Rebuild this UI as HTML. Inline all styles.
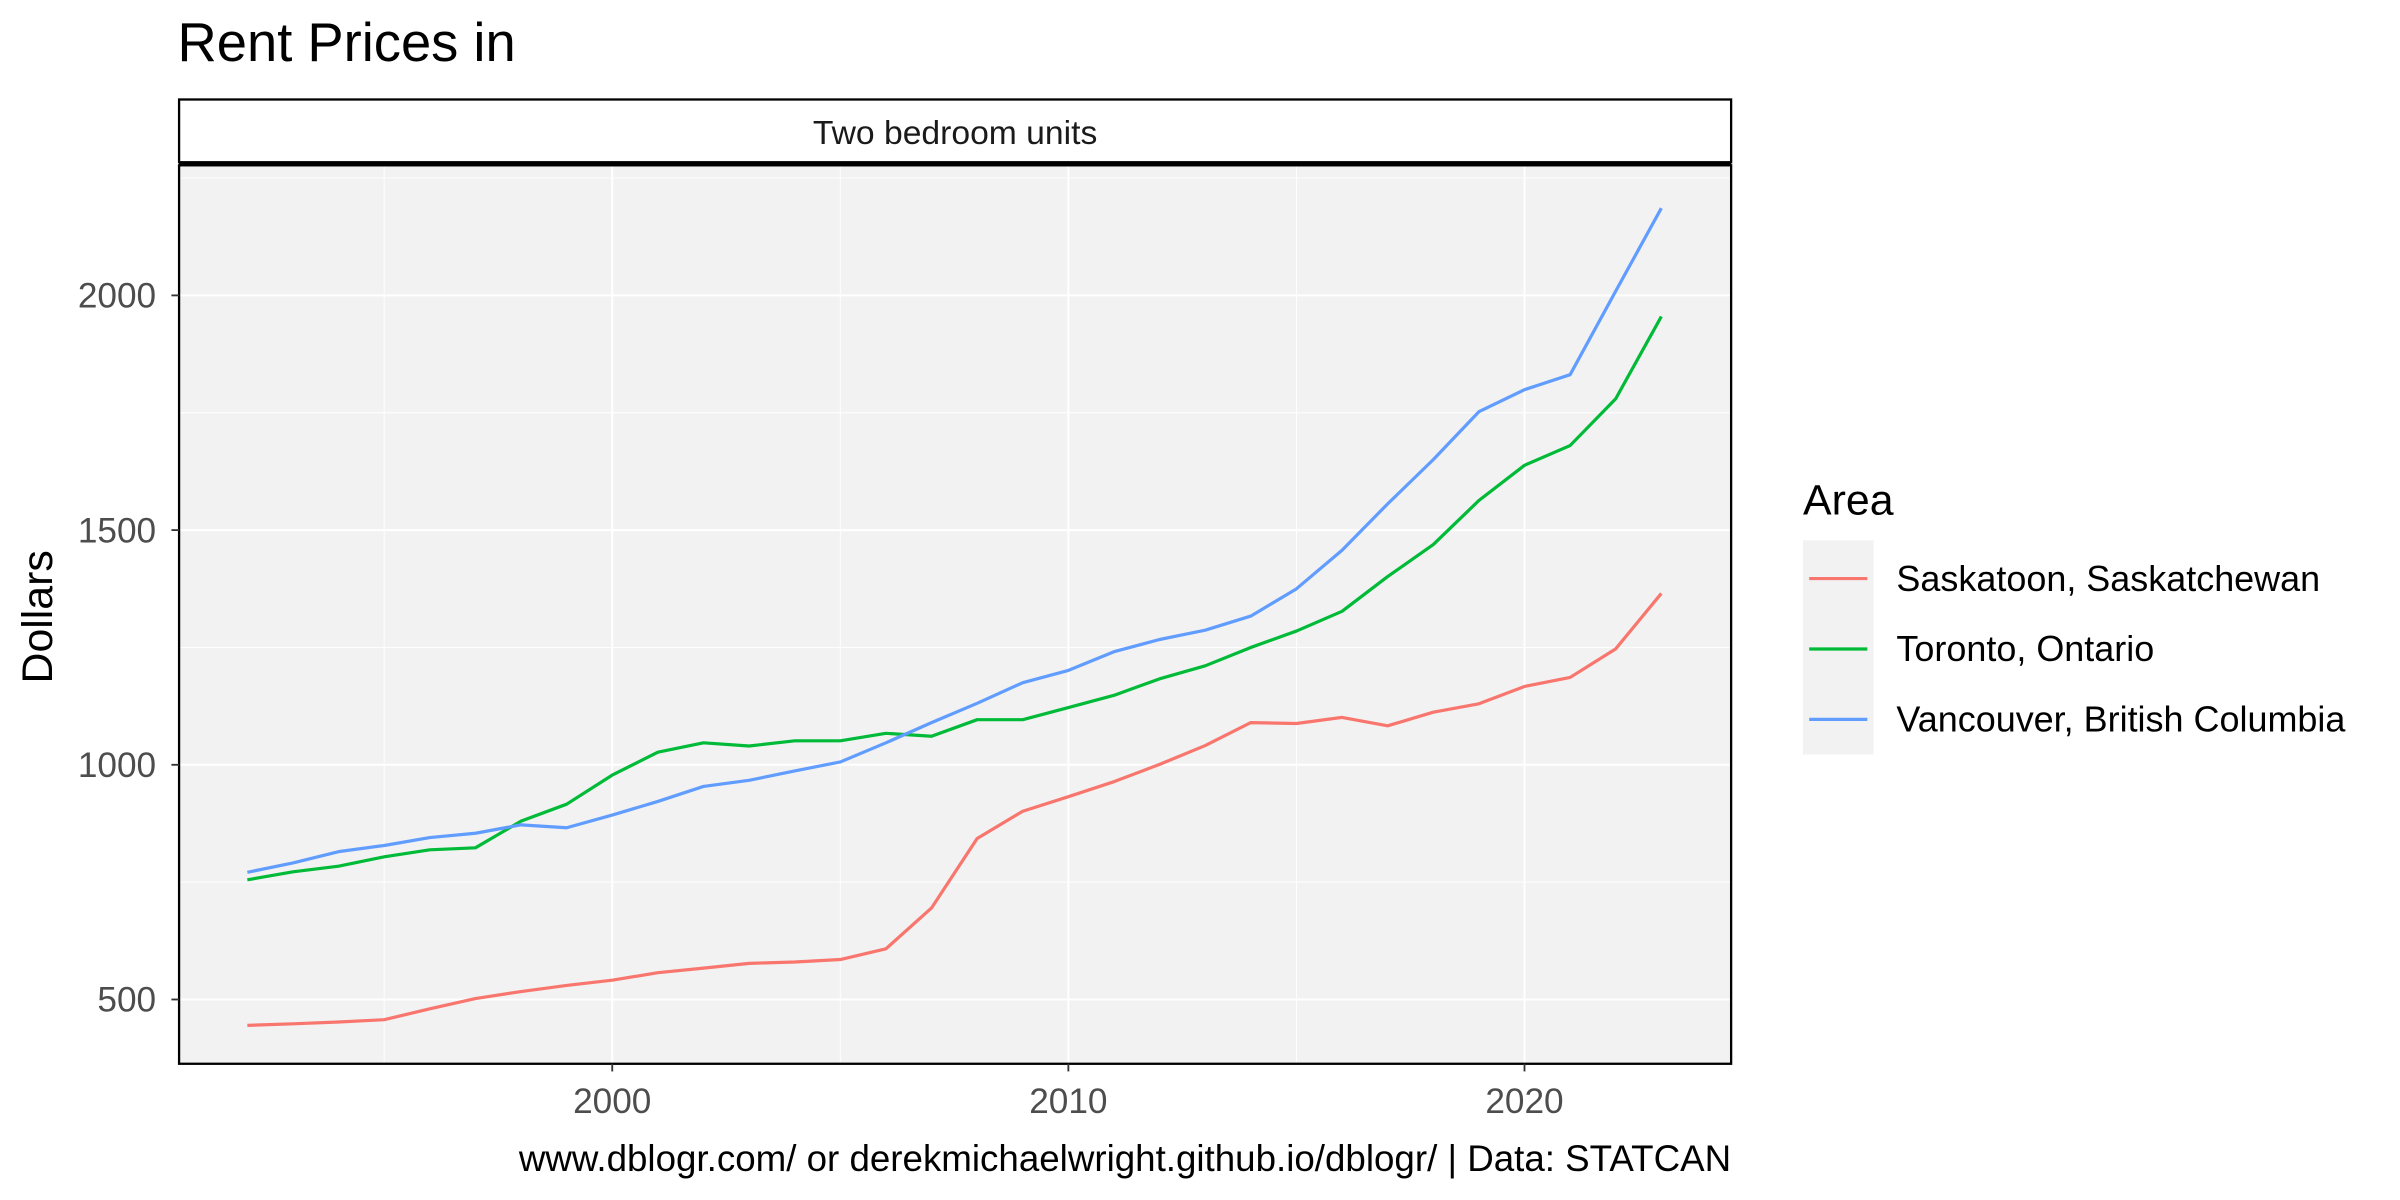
<!DOCTYPE html>
<html><head><meta charset="utf-8"><style>
html,body{margin:0;padding:0;background:#fff}
svg{display:block;font-family:"Liberation Sans",Arial,sans-serif}
</style></head><body>
<svg id="chart" width="2400" height="1200" viewBox="0 0 1568 784" xmlns="http://www.w3.org/2000/svg">
<text x="116" y="40" font-size="35.5" fill="#000">Rent Prices in</text>
<rect x="117" y="65" width="1014" height="41" fill="#fff" stroke="#000" stroke-width="1.5"/>
<text x="624" y="94" font-size="22" text-anchor="middle" fill="#1a1a1a">Two bedroom units</text>
<rect x="117" y="108" width="1014" height="587" fill="#f2f2f2"/>
<g id="grid"></g>
<g id="series"></g>
<line x1="117" y1="107" x2="1131" y2="107" stroke="#000" stroke-width="3"/>
<rect x="117" y="108" width="1014" height="587" fill="none" stroke="#000" stroke-width="1.5"/>
<g id="axes"></g>
<text transform="translate(34,403) rotate(-90)" font-size="28" text-anchor="middle" fill="#000">Dollars</text>
<text x="1178" y="336" font-size="28" fill="#000">Area</text>
<rect x="1178" y="353" width="46" height="140" fill="#f2f2f2"/>
<g id="legend"></g>
<text x="1131" y="765" font-size="24" text-anchor="end" fill="#000">www.dblogr.com/ or derekmichaelwright.github.io/dblogr/ | Data: STATCAN</text>
</svg>
<script>
const years=[1992,1993,1994,1995,1996,1997,1998,1999,2000,2001,2002,2003,2004,2005,2006,2007,2008,2009,2010,2011,2012,2013,2014,2015,2016,2017,2018,2019,2020,2021,2022,2023];
const saskatoon=[445,448,452,457,480,502,517,530,541,557,567,577,580,585,608,695,843,901,932,964,1001,1041,1090,1088,1101,1083,1112,1130,1167,1186,1247,1365];
const toronto=[755,772,784,804,819,823,880,916,978,1027,1047,1040,1051,1051,1067,1061,1096,1096,1122,1148,1183,1211,1250,1285,1327,1401,1469,1563,1638,1680,1780,1955];
const vancouver=[771,791,815,828,845,854,872,866,893,922,954,967,987,1006,1047,1090,1131,1175,1201,1241,1267,1287,1317,1375,1457,1556,1650,1752,1799,1831,2009,2186];
const seriesNames=["Saskatoon, Saskatchewan","Toronto, Ontario","Vancouver, British Columbia"];
const seriesColors=["#F8766D","#00BA38","#619CFF"];
const xTicks=[2000,2010,2020];
const xMinor=[1995,2005,2015];
const yTicks=[500,1000,1500,2000];
const yMinor=[750,1250,1750,2250];
const NS="http://www.w3.org/2000/svg";
const X=v=>400+(v-2000)*29.8;
const Y=v=>653-(v-500)*0.30667;
function mk(tag,attrs,parent){const e=document.createElementNS(NS,tag);for(const k in attrs)e.setAttribute(k,attrs[k]);parent.appendChild(e);return e;}
const grid=document.getElementById('grid'),axes=document.getElementById('axes'),ser=document.getElementById('series'),leg=document.getElementById('legend');
xMinor.forEach(v=>{const l=mk('line',{x1:X(v),x2:X(v),y1:108,y2:695,stroke:'#fff','stroke-width':0.6},grid);

});
yMinor.forEach(v=>{const l=mk('line',{x1:117,x2:1131,y1:Y(v),y2:Y(v),stroke:'#fff','stroke-width':0.6},grid);

});
xTicks.forEach(v=>{const l=mk('line',{x1:X(v),x2:X(v),y1:108,y2:695,stroke:'#fff','stroke-width':1.3},grid);


const t=mk('line',{x1:X(v),x2:X(v),y1:695,y2:700,stroke:'#333','stroke-width':1.2},axes);


const tx=mk('text',{x:X(v),y:727,'font-size':23,'text-anchor':'middle',fill:'#4d4d4d'},axes);tx.textContent=v;

});
yTicks.forEach(v=>{const l=mk('line',{x1:117,x2:1131,y1:Y(v),y2:Y(v),stroke:'#fff','stroke-width':1.3},grid);


const t=mk('line',{x1:112,x2:117,y1:Y(v),y2:Y(v),stroke:'#333','stroke-width':1.2},axes);


const tx=mk('text',{x:102,y:Y(v)+8,'font-size':23,'text-anchor':'end',fill:'#4d4d4d'},axes);tx.textContent=v;

});
[saskatoon,toronto,vancouver].forEach((vals,i)=>{
const d=vals.map((v,j)=>(j?'L':'M')+X(years[j]).toFixed(1)+','+Y(v).toFixed(1)).join('');
const p=mk('path',{d:d,fill:'none',stroke:seriesColors[i],'stroke-width':2.1,'stroke-linejoin':'round'},ser);


const ly=378+i*46;
const k=mk('line',{x1:1182,x2:1220,y1:ly,y2:ly,stroke:seriesColors[i],'stroke-width':2.1},leg);


const t=mk('text',{x:1239,y:ly+8,'font-size':23.5,fill:'#000'},leg);t.textContent=seriesNames[i];

});
</script>
</body></html>
